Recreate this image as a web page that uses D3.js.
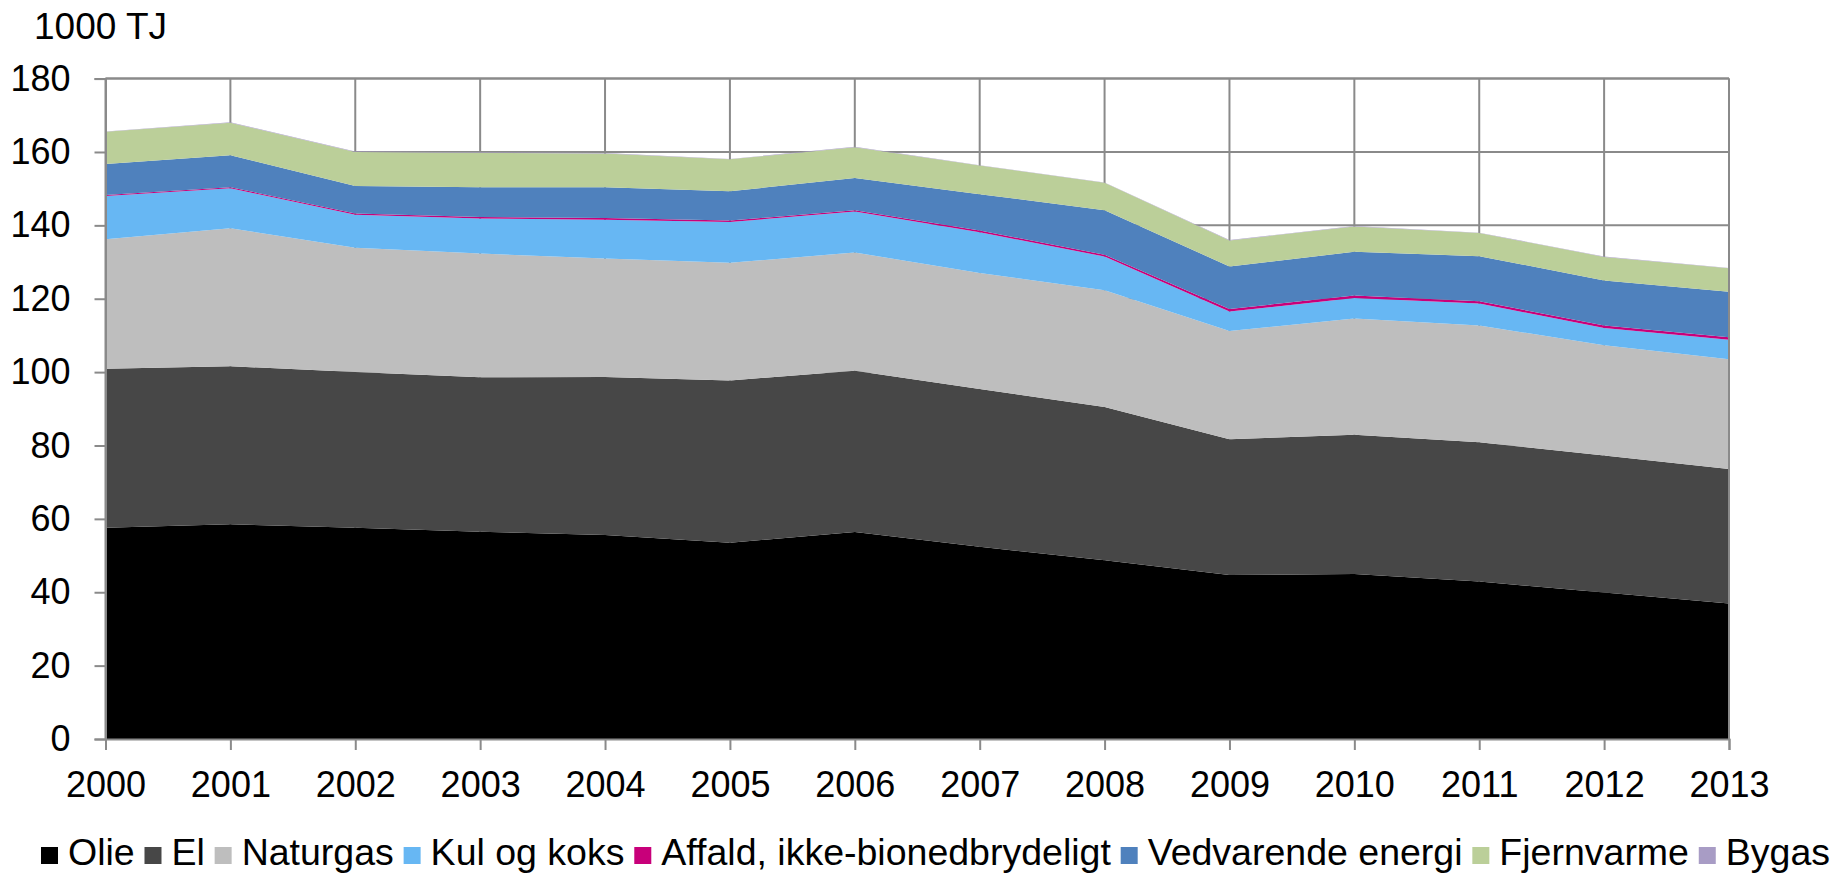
<!DOCTYPE html>
<html>
<head>
  <meta charset="UTF-8">
  <style>
    body { margin: 0; background: #fff; }
    svg text { font-family: "Liberation Sans", Arial, sans-serif; fill: #000; }
  </style>
</head>
<body>
<svg id="chart" width="1839" height="873"></svg>
<script src="https://d3js.org/d3.v7.min.js"></script>
<script>
// data (1000 TJ)
var years = [2000, 2001, 2002, 2003, 2004, 2005, 2006, 2007, 2008, 2009, 2010, 2011, 2012, 2013];
var olie       = [57.6, 58.5, 57.6, 56.5, 55.6, 53.5, 56.4, 52.4, 48.7, 44.7, 45.0, 42.9, 39.9, 36.9];
var el         = [43.3, 43.1, 42.4, 42.1, 43.1, 44.2, 44.0, 43.0, 41.8, 37.0, 37.9, 38.0, 37.4, 36.7];
var naturgas   = [35.3, 37.6, 33.9, 33.7, 32.3, 32.1, 32.2, 31.6, 31.8, 29.5, 31.7, 31.8, 30.0, 29.9];
var kul        = [11.8, 10.9, 9.0, 9.6, 10.5, 11.1, 11.2, 11.1, 9.2, 5.3, 5.6, 6.0, 4.7, 5.3];
var affald     = [0.3, 0.3, 0.3, 0.4, 0.5, 0.4, 0.3, 0.5, 0.5, 0.7, 0.7, 0.6, 0.7, 0.7];
var vedvarende = [8.4, 8.7, 7.5, 8.1, 8.4, 8.0, 8.8, 9.9, 12.1, 11.6, 11.9, 12.3, 12.3, 12.4];
var fjernvarme = [8.8, 8.9, 9.3, 9.4, 9.2, 8.7, 8.4, 7.8, 7.5, 7.1, 6.9, 6.3, 6.4, 6.4];
var bygas      = [0.1, 0.1, 0.1, 0.1, 0.1, 0.1, 0.1, 0.1, 0.1, 0.1, 0.1, 0.1, 0.1, 0.1];

var seriesNames = ["Olie", "El", "Naturgas", "Kul og koks", "Affald, ikke-bionedbrydeligt",
                   "Vedvarende energi", "Fjernvarme", "Bygas"];
var seriesValues = [olie, el, naturgas, kul, affald, vedvarende, fjernvarme, bygas];
var colors = ["#000000", "#474747", "#bebebe", "#67b7f3", "#c8007a", "#4f81bd", "#bbcf99", "#a89cc5"];
var yTicks = [0, 20, 40, 60, 80, 100, 120, 140, 160, 180];
var unitLabel = "1000 TJ";

// build rows for d3.stack
var rows = years.map(function(yr, i) {
  var r = { year: yr };
  seriesNames.forEach(function(n, k) { r[n] = seriesValues[k][i]; });
  return r;
});

var svg = d3.select("#chart");
// note: "top" is taken by window.top, so plot edges get their own names
var plotL = 105.5, plotR = 1729, plotT = 78.6, plotB = 739;
var fontSize = 36;

var x = d3.scaleLinear().domain([years[0], years[years.length - 1]]).range([plotL, plotR]);
var y = d3.scaleLinear().domain([0, 180]).range([plotB, plotT]);

var gridColor = "#8a8a8a";

// gridlines
svg.append("g").selectAll("line")
  .data(yTicks).enter().append("line")
  .attr("x1", plotL).attr("x2", plotR)
  .attr("y1", d => y(d)).attr("y2", d => y(d))
  .attr("stroke", gridColor).attr("stroke-width", 2);

svg.append("g").selectAll("line")
  .data(years).enter().append("line")
  .attr("x1", d => x(d)).attr("x2", d => x(d))
  .attr("y1", plotT).attr("y2", plotB)
  .attr("stroke", gridColor).attr("stroke-width", 2);

// stacked areas
var layers = d3.stack().keys(seriesNames)(rows);

var area = d3.area()
  .x(d => x(d.data.year))
  .y0(d => y(d[0]))
  .y1(d => y(d[1]));

svg.append("g").selectAll("path")
  .data(layers).enter().append("path")
  .attr("d", area)
  .attr("fill", (d, i) => colors[i]);

// axes
var yAxis = d3.axisLeft(y).tickValues(yTicks).tickSize(11).tickPadding(24);
var gy = svg.append("g").attr("transform", "translate(" + plotL + ",0)").call(yAxis);
gy.select(".domain").attr("stroke", gridColor).attr("stroke-width", 2);
gy.selectAll(".tick line").attr("stroke", gridColor).attr("stroke-width", 2);
gy.selectAll(".tick text").attr("font-size", fontSize).attr("font-family", "Liberation Sans, Arial, sans-serif");

var xAxis = d3.axisBottom(x).tickValues(years).tickFormat(d3.format("d")).tickSize(11).tickPadding(21);
var gx = svg.append("g").attr("transform", "translate(0," + plotB + ")").call(xAxis);
gx.select(".domain").attr("stroke", gridColor).attr("stroke-width", 2);
gx.selectAll(".tick line").attr("stroke", gridColor).attr("stroke-width", 2);
gx.selectAll(".tick text").attr("font-size", fontSize).attr("font-family", "Liberation Sans, Arial, sans-serif");

// plot border top/right
svg.append("line").attr("x1", plotL).attr("x2", plotR).attr("y1", plotT).attr("y2", plotT)
  .attr("stroke", gridColor).attr("stroke-width", 2);
svg.append("line").attr("x1", plotR).attr("x2", plotR).attr("y1", plotT).attr("y2", plotB)
  .attr("stroke", gridColor).attr("stroke-width", 2);

// unit label
svg.append("text").attr("x", 34).attr("y", 39).attr("font-size", 37).text(unitLabel);

// legend
var legend = svg.append("g");
var lx = 41, legendY = 865, sq = 17, textGap = 10;
var items = legend.selectAll("g").data(seriesNames).enter().append("g");
items.append("rect").attr("width", sq).attr("height", sq).attr("y", legendY - sq - 1)
  .attr("fill", (d, i) => colors[i]);
items.append("text").attr("x", sq + textGap).attr("y", legendY).attr("font-size", 37.5).text(d => d);

// spread items so the legend runs to the right side
var widths = [];
items.each(function() { widths.push(d3.select(this).select("text").node().getComputedTextLength() + sq + textGap); });
var gap = (1830 - lx - d3.sum(widths)) / (seriesNames.length - 1);
var pos = lx;
items.attr("transform", function(d, i) {
  var t = "translate(" + pos + ",0)";
  pos += widths[i] + gap;
  return t;
});
</script>
</body>
</html>
